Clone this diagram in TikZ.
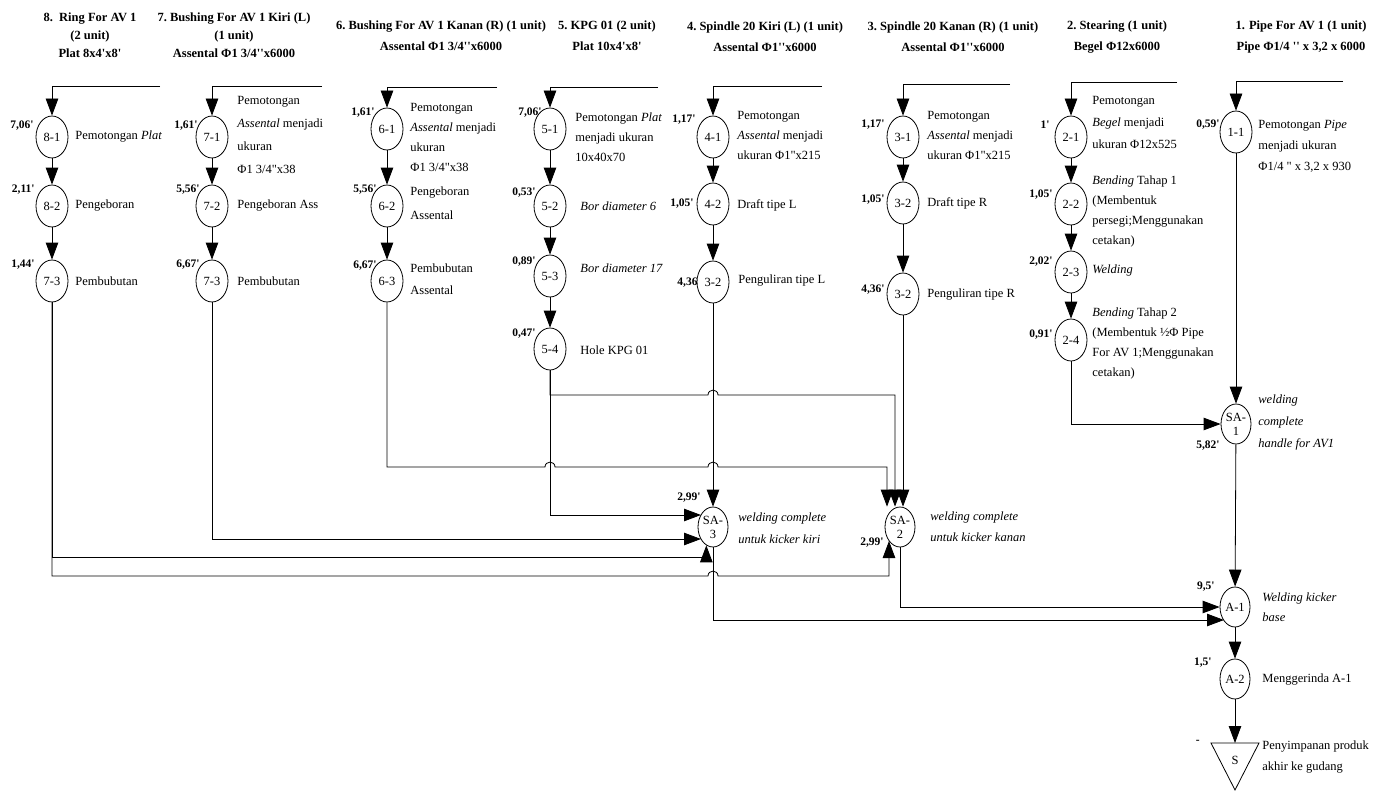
\documentclass[tikz,border=0pt]{standalone}
\usepackage{fontspec}
\setmainfont{Liberation Serif}[Ligatures=TeXOff]
\usetikzlibrary{arrows.meta,shapes.geometric,calc}
\newcommand\myq{'}
\begin{document}
\begin{tikzpicture}[x=1pt,y=-1pt, line width=0.8pt,
  arr/.style={-{Triangle[length=17pt,width=12.5pt]}},
  proc/.style={draw, ellipse, minimum width=32pt, minimum height=42pt, inner sep=0pt, font=\fontsize{12.5}{13}\selectfont},
  sa/.style={proc, minimum width=30pt, minimum height=40pt, align=center, font=\fontsize{12.5}{14}\selectfont},
  lbl/.style={anchor=west, align=left, inner sep=0pt, font=\fontsize{12.5}{21}\selectfont},
  tm/.style={anchor=east, inner sep=0pt, font=\bfseries\fontsize{11.5}{11}\selectfont},
  hd/.style={align=center, inner sep=0pt, font=\bfseries\fontsize{12.5}{18}\selectfont},
  hdb/.style={hd, font=\bfseries\fontsize{12.5}{21}\selectfont}]
\useasboundingbox (0,0) rectangle (1385,792);

% headings
\node[hd]  (h8) at (90,35)   {8.\ \ Ring For AV 1\\(2 unit)\\Plat 8x4\myq x8\myq};
\node[hd]  (h7) at (234,35)  {7.\ Bushing For AV 1 Kiri (L)\\(1 unit)\\Assental Φ1 3/4\myq\myq x6000};
\node[hdb] (h6) at (441,36)  {6.\ Bushing For AV 1 Kanan (R) (1 unit)\\Assental Φ1 3/4\myq\myq x6000};
\node[hdb] (h5) at (607,36)  {5.\ KPG 01 (2 unit)\\Plat 10x4\myq x8\myq};
\node[hdb] (h4) at (765,37)  {4.\ Spindle 20 Kiri (L) (1 unit)\\Assental Φ1\myq\myq x6000};
\node[hdb] (h3) at (953,37)  {3.\ Spindle 20 Kanan (R) (1 unit)\\Assental Φ1\myq\myq x6000};
\node[hdb] (h2) at (1117,37) {2.\ Stearing (1 unit)\\Begel Φ12x6000};
\node[hdb] (h1) at (1301,37) {1. Pipe For AV 1 (1 unit)\\Pipe Φ1/4 \myq\myq{} x 3,2 x 6000};

% process nodes
\node[proc] (n81)  at (52,137)  {8-1};
\node[proc] (n82)  at (52,206)  {8-2};
\node[proc] (n73a) at (52,281)  {7-3};
\node[proc] (n71)  at (212,137) {7-1};
\node[proc] (n72)  at (212,206) {7-2};
\node[proc] (n73b) at (212,281) {7-3};
\node[proc] (n61)  at (387,129) {6-1};
\node[proc] (n62)  at (387,206) {6-2};
\node[proc] (n63)  at (387,281) {6-3};
\node[proc] (n51)  at (550,129) {5-1};
\node[proc] (n52)  at (550,206) {5-2};
\node[proc] (n53)  at (550,276) {5-3};
\node[proc] (n54)  at (550,349) {5-4};
\node[proc] (n41)  at (713,137) {4-1};
\node[proc] (n42)  at (713,204) {4-2};
\node[proc] (n32a) at (713,282) {3-2};
\node[proc] (n31)  at (903,137) {3-1};
\node[proc] (n32b) at (903,203) {3-2};
\node[proc] (n32c) at (903,294) {3-2};
\node[proc] (n21)  at (1071,137) {2-1};
\node[proc] (n22)  at (1071,204) {2-2};
\node[proc] (n23)  at (1071,272) {2-3};
\node[proc] (n24)  at (1071,340) {2-4};
\node[proc] (n11)  at (1236,132) {1-1};
\node[sa] (sa1) at (1236,424) {SA-\\1};
\node[sa] (sa3) at (713,527)  {SA-\\3};
\node[sa] (sa2) at (900,527)  {SA-\\2};
\node[sa] (a1)  at (1235,607) {A-1};
\node[sa] (a2)  at (1235,679) {A-2};
\node[inner sep=0pt, font=\fontsize{12.5}{13}\selectfont] (s) at (1235,760) {S};
\draw ($(s)+(-24,-17)$) -- ($(s)+(24,-17)$) -- ($(s)+(0,30)$) -- cycle;

% incoming material lines
\coordinate (t8) at (160,86);
\coordinate (t7) at (322,86);
\coordinate (t6) at (497,87);
\coordinate (t5) at (658,87);
\coordinate (t4) at (822,86);
\coordinate (t3) at (1010,84);
\coordinate (t2) at (1177,82);
\coordinate (t1) at (1343,81);
\draw[arr] (t8) -| (n81);
\draw[arr] (t7) -| (n71);
\draw[arr] (t6) -| (n61);
\draw[arr] (t5) -| (n51);
\draw[arr] (t4) -| (n41);
\draw[arr] (t3) -| (n31);
\draw[arr] (t2) -| (n21);
\draw[arr] (t1) -| (n11);

% chains
\draw[arr] (n81) -- (n82);
\draw[arr] (n82) -- (n73a);
\draw[arr] (n71) -- (n72);
\draw[arr] (n72) -- (n73b);
\draw[arr] (n61) -- (n62);
\draw[arr] (n62) -- (n63);
\draw[arr] (n51) -- (n52);
\draw[arr] (n52) -- (n53);
\draw[arr] (n53) -- (n54);
\draw[arr] (n41) -- (n42);
\draw[arr] (n42) -- (n32a);
\draw[arr] (n31) -- (n32b);
\draw[arr] (n32b) -- (n32c);
\draw[arr] (n21) -- (n22);
\draw[arr] (n22) -- (n23);
\draw[arr] (n23) -- (n24);

% assembly connectors
\draw[arr] (n32a) -- (sa3);
\draw[arr] (n32c) -- ($(sa2.north)+(3,0)$);
\draw[arr] (n54) -- (550,395) -- (708,395) .. controls (708,388.5) and (718,388.5) .. (718,395) -- (895,395) -- ($(sa2.north)+(-5,0)$);
\draw[arr] (n63) -- (387,467) -- (545,467) .. controls (545,460.5) and (555,460.5) .. (555,467) -- (708,467) .. controls (708,460.5) and (718,460.5) .. (718,467) -- (887,467) -- ($(sa2.north)+(-13,0)$);
\draw[arr] (n54) |- ($(sa3)+(-12,-12)$);
\draw[arr] (n73b) |- ($(sa3)+(-12,12)$);
\draw[arr] (n73a) |- ($(sa3.-110)+(0,12)$) -- (sa3.-110);
\draw[arr] (n73a) -- (52,576) -- (708,576) .. controls (708,569.5) and (718,569.5) .. (718,576) -- (889,576) -- ($(sa2)+(-11,14)$);
\draw[arr] (n24) |- (sa1);
\draw[arr] (n11) -- (sa1);
\draw[arr] (sa3) |- ($(a1)+(-11,13)$);
\draw[arr] (sa2) |- (a1);
\draw[arr] (sa1) -- (a1);
\draw[arr] (a1) -- (a2);
\draw[arr] (a2) -- ($(s)+(0,-17)$);

% time labels
\node[tm] at (34,126)  {7,06\myq};
\node[tm] at (35,190)  {2,11\myq};
\node[tm] at (35,265)  {1,44\myq};
\node[tm] at (198,126) {1,61\myq};
\node[tm] at (200,190) {5,56\myq};
\node[tm] at (200,265) {6,67\myq};
\node[tm] at (375,113) {1,61\myq};
\node[tm] at (377,190) {5,56\myq};
\node[tm] at (377,266) {6,67\myq};
\node[tm] at (542,113) {7,06\myq};
\node[tm] at (536,193) {0,53\myq};
\node[tm] at (536,262) {0,89\myq};
\node[tm] at (536,334) {0,47\myq};
\node[tm] at (696,120) {1,17\myq};
\node[tm] at (694,204) {1,05\myq};
\node[tm] at (698,283) {4,36};
\node[tm] at (885,125) {1,17\myq};
\node[tm] at (885,200) {1,05\myq};
\node[tm] at (885,290) {4,36\myq};
\node[tm] at (1050,125) {1\myq};
\node[tm] at (1053,195) {1,05\myq};
\node[tm] at (1053,262) {2,02\myq};
\node[tm] at (1053,335) {0,91\myq};
\node[tm] at (1220,125) {0,59\myq};
\node[tm] at (1220,446) {5,82\myq};
\node[tm] at (701,498)  {2,99\myq};
\node[tm] at (884,543)  {2,99\myq};
\node[tm] at (1215,587) {9,5\myq};
\node[tm] at (1212,663) {1,5\myq};
\node[tm] at (1200,742) {-};

% description labels
\node[lbl] at (75,137) {Pemotongan \textit{Plat}};
\node[lbl] at (75,206) {Pengeboran};
\node[lbl] at (75,281) {Pembubutan};
\node[lbl, font=\fontsize{12.5}{23}\selectfont] at (237,135) {Pemotongan\\\textit{Assental} menjadi\\ukuran\\Φ1 3/4"x38};
\node[lbl] at (237,206) {Pengeboran Ass};
\node[lbl] at (237,281) {Pembubutan};
\node[lbl, font=\fontsize{12.5}{20}\selectfont] at (410,137) {Pemotongan\\\textit{Assental} menjadi\\ukuran\\Φ1 3/4"x38};
\node[lbl, font=\fontsize{12.5}{24}\selectfont] at (410,203) {Pengeboran\\Assental};
\node[lbl, font=\fontsize{12.5}{22}\selectfont] at (410,279) {Pembubutan\\Assental};
\node[lbl, font=\fontsize{12.5}{20}\selectfont] at (575,137) {Pemotongan \textit{Plat}\\menjadi ukuran\\10x40x70};
\node[lbl] at (580,206) {\textit{Bor diameter 6}};
\node[lbl] at (580,268) {\textit{Bor diameter 17}};
\node[lbl] at (580,350) {Hole KPG 01};
\node[lbl, font=\fontsize{12.5}{20}\selectfont] at (737,135) {Pemotongan\\\textit{Assental} menjadi\\ukuran Φ1"x215};
\node[lbl] at (737,205) {Draft tipe L};
\node[lbl] at (738,281) {Penguliran tipe L};
\node[lbl, font=\fontsize{12.5}{20}\selectfont] at (927,135) {Pemotongan\\\textit{Assental} menjadi\\ukuran Φ1"x215};
\node[lbl] at (927,203) {Draft tipe R};
\node[lbl] at (927,295) {Penguliran tipe R};
\node[lbl, font=\fontsize{12.5}{22}\selectfont] at (1092,122) {Pemotongan\\\textit{Begel} menjadi\\ukuran Φ12x525};
\node[lbl, font=\fontsize{12.5}{20}\selectfont] at (1092,211) {\textit{Bending} Tahap 1\\(Membentuk\\persegi;Menggunakan\\cetakan)};
\node[lbl] at (1092,270) {\textit{Welding}};
\node[lbl, font=\fontsize{12.5}{20}\selectfont] at (1092,343) {\textit{Bending} Tahap 2\\(Membentuk ½Φ Pipe\\For AV 1;Menggunakan\\cetakan)};
\node[lbl, font=\fontsize{12.5}{21}\selectfont] at (1258,146) {Pemotongan \textit{Pipe}\\menjadi ukuran\\Φ1/4 " x 3,2 x 930};
\node[lbl, font=\itshape\fontsize{12.5}{22}\selectfont] at (1258,422) {welding\\complete\\handle for AV1};
\node[lbl, font=\itshape\fontsize{12.5}{22}\selectfont] at (738,528) {welding complete\\untuk kicker kiri};
\node[lbl, font=\itshape\fontsize{12.5}{21}\selectfont] at (930,527) {welding complete\\untuk kicker kanan};
\node[lbl, font=\itshape\fontsize{12.5}{20}\selectfont] at (1262,607) {Welding kicker\\base};
\node[lbl] at (1262,680) {Menggerinda A-1};
\node[lbl, font=\fontsize{12.5}{21}\selectfont] at (1262,757) {Penyimpanan produk\\akhir ke gudang};
\end{tikzpicture}
\end{document}
